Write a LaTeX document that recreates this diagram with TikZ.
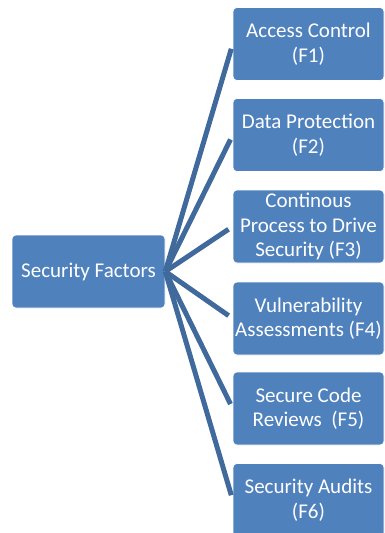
\documentclass[tikz,border=0pt]{standalone}
\usepackage{fontspec}
\setmainfont{Carlito}
\definecolor{boxblue}{HTML}{4F81BD}
\definecolor{linkblue}{HTML}{40699C}
\begin{document}
\begin{tikzpicture}[x=1pt,y=-1pt,
  fbox/.style={rectangle, rounded corners=4pt, fill=boxblue, draw=white, line width=0.6pt,
    minimum width=151pt, minimum height=73pt, inner sep=0pt, align=center,
    text=white, font=\fontsize{21}{24.5}\selectfont},
  link/.style={draw=linkblue, line width=5pt, shorten >=5pt}]
\useasboundingbox (0,0) rectangle (385,533);
\clip (0,0) rectangle (385,533);
\node[fbox, minimum width=153pt] (root) at (88.5,271.5) {Security Factors};
\node[fbox] (f1) at (308.5,44) {Access Control\\(F1)};
\node[fbox] (f2) at (308.5,135) {Data Protection\\(F2)};
\node[fbox] (f3) at (308.5,226.5) {Continous\\Process to Drive\\Security (F3)};
\node[fbox] (f4) at (308.5,318.5) {Vulnerability\\Assessments (F4)};
\node[fbox] (f5) at (308.5,408.5) {Secure Code\\Reviews~~(F5)};
\node[fbox] (f6) at (308.5,500) {Security Audits\\(F6)};
\foreach \t in {f1,f2,f3,f4,f5,f6}{
  \draw[link] (root.east) -- (\t.west);
}
\end{tikzpicture}
\end{document}
